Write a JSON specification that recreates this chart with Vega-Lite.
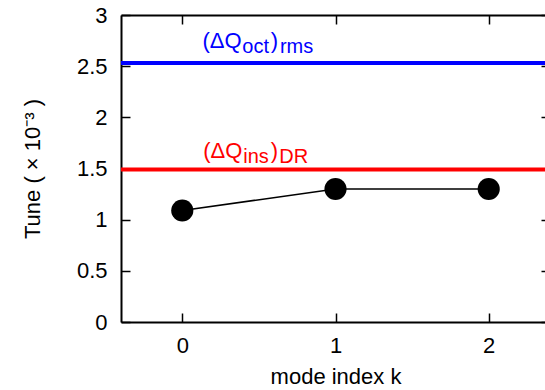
{
  "$schema": "https://vega.github.io/schema/vega-lite/v6.json",
  "width": 429,
  "height": 307,
  "autosize": {"type": "none"},
  "padding": {"left": 121, "top": 15, "right": 0, "bottom": 68},
  "config": {
    "font": "Liberation Sans",
    "view": {"stroke": null},
    "axis": {
      "grid": false,
      "domainColor": "black",
      "domainWidth": 2,
      "tickColor": "black",
      "tickWidth": 1.5,
      "tickSize": -9,
      "labelColor": "black",
      "labelFontSize": 22,
      "labelPadding": 23,
      "titleColor": "black",
      "titleFontSize": 22,
      "titleFontWeight": "normal"
    }
  },
  "datasets": {
    "points": [
      {"k": 0, "tune": 1.09},
      {"k": 1, "tune": 1.30},
      {"k": 2, "tune": 1.30}
    ],
    "refs": [
      {"name": "oct", "tune": 2.53},
      {"name": "ins", "tune": 1.49}
    ],
    "labels": [
      {"name": "oct", "part": "main", "text": "(ΔQ", "k": 0.132, "tune": 2.675},
      {"name": "oct", "part": "main", "text": ")", "k": 0.578, "tune": 2.675},
      {"name": "oct", "part": "sub", "text": "oct", "k": 0.392, "tune": 2.626},
      {"name": "oct", "part": "sub", "text": "rms", "k": 0.637, "tune": 2.626},
      {"name": "ins", "part": "main", "text": "(ΔQ", "k": 0.137, "tune": 1.60},
      {"name": "ins", "part": "main", "text": ")", "k": 0.578, "tune": 1.60},
      {"name": "ins", "part": "sub", "text": "ins", "k": 0.398, "tune": 1.556},
      {"name": "ins", "part": "sub", "text": "DR", "k": 0.633, "tune": 1.556}
    ]
  },
  "layer": [
    {
      "data": {"name": "refs"},
      "mark": {"type": "rule", "strokeWidth": 4},
      "encoding": {
        "y": {"field": "tune", "type": "quantitative", "scale": {"domain": [0, 3], "nice": false, "zero": true}, "axis": null},
        "color": {"field": "name", "type": "nominal", "scale": {"domain": ["oct", "ins"], "range": ["#0000ff", "#ff0000"]}, "legend": null}
      }
    },
    {
      "data": {"name": "labels"},
      "transform": [{"filter": "datum.part === 'main'"}],
      "mark": {"type": "text", "align": "left", "baseline": "alphabetic", "fontSize": 22},
      "encoding": {
        "x": {"field": "k", "type": "quantitative", "axis": null},
        "y": {"field": "tune", "type": "quantitative", "axis": null},
        "text": {"field": "text"},
        "color": {"field": "name", "type": "nominal", "legend": null}
      }
    },
    {
      "data": {"name": "labels"},
      "transform": [{"filter": "datum.part === 'sub'"}],
      "mark": {"type": "text", "align": "left", "baseline": "alphabetic", "fontSize": 20},
      "encoding": {
        "x": {"field": "k", "type": "quantitative", "axis": null},
        "y": {"field": "tune", "type": "quantitative", "axis": null},
        "text": {"field": "text"},
        "color": {"field": "name", "type": "nominal", "legend": null}
      }
    },
    {
      "data": {"name": "points"},
      "mark": {"type": "point", "opacity": 0},
      "encoding": {
        "x": {"field": "k", "type": "quantitative", "axis": {"orient": "top", "labels": false, "title": null, "values": [0, 1, 2]}},
        "y": {"field": "tune", "type": "quantitative", "axis": {"orient": "right", "labels": false, "title": null, "values": [0, 0.5, 1, 1.5, 2, 2.5, 3]}}
      }
    },
    {
      "data": {"name": "points"},
      "mark": {"type": "line", "color": "black", "strokeWidth": 1.5},
      "encoding": {
        "x": {"field": "k", "type": "quantitative", "scale": {"domain": [-0.4, 2.4], "nice": false, "zero": false},
              "axis": {"orient": "bottom", "values": [0, 1, 2], "format": "d", "title": "mode index k", "titlePadding": 10, "labelPadding": 22}},
        "y": {"field": "tune", "type": "quantitative",
              "axis": {"orient": "left", "values": [0, 0.5, 1, 1.5, 2, 2.5, 3], "format": "~g", "title": "Tune ( × 10⁻³ )", "titlePadding": 32}}
      }
    },
    {
      "data": {"name": "points"},
      "mark": {"type": "circle", "color": "black", "opacity": 1, "size": 490},
      "encoding": {
        "x": {"field": "k", "type": "quantitative", "axis": null},
        "y": {"field": "tune", "type": "quantitative", "axis": null}
      }
    }
  ],
  "resolve": {"axis": {"x": "independent", "y": "independent"}}
}
